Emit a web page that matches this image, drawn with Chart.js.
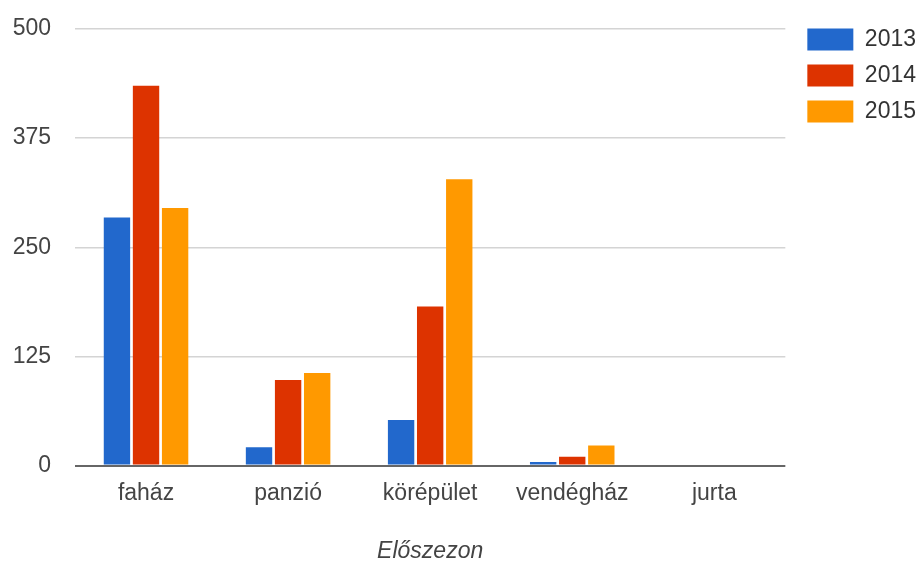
<!DOCTYPE html>
<html>
<head>
<meta charset="utf-8">
<script src="https://cdn.jsdelivr.net/npm/chart.js@4/dist/chart.umd.min.js"></script>
<style>
html,body{margin:0;padding:0;background:#fff;}
#wrap{width:920px;height:561px;position:relative;}
</style>
</head>
<body>
<div id="wrap"><canvas id="c"></canvas></div>
<script>
const categories = ["faház", "panzió", "körépület", "vendégház", "jurta"];
const seriesNames = ["2013", "2014", "2015"];
const values2013 = [284, 21, 52, 4, 0];
const values2014 = [435, 98, 182, 10, 0];
const values2015 = [295, 106, 328, 23, 0];
const yTicks = [0, 125, 250, 375, 500];
const axisTitle = "Előszezon";
const colors = ["#2268cc", "#dd3300", "#ff9900"];

const FONT = 'Arial, "Liberation Sans", sans-serif';

new Chart(document.getElementById('c'), {
  type: 'bar',
  data: {
    labels: categories,
    datasets: [values2013, values2014, values2015].map((v, i) => ({
      label: seriesNames[i],
      data: v,
      backgroundColor: colors[i],
      borderWidth: 0,
      categoryPercentage: 0.614,
      barPercentage: 0.907
    }))
  },
  options: {
    responsive: true,
    maintainAspectRatio: false,
    animation: false,
    layout: { padding: { left: 12, right: -6, top: 15, bottom: 0 } },
    plugins: {
      legend: {
        position: 'right',
        align: 'start',
        labels: {
          boxWidth: 46,
          boxHeight: 22,
          padding: 13,
          color: '#333',
          font: { family: FONT, size: 23 }
        }
      },
      tooltip: { enabled: false }
    },
    scales: {
      x: {
        grid: { display: false },
        border: { display: false },
        ticks: { color: '#444', font: { family: FONT, size: 23 }, padding: 6 },
        title: {
          display: true,
          text: axisTitle,
          color: '#444',
          font: { family: FONT, size: 23, style: 'italic', lineHeight: 1 },
          padding: { top: 0, bottom: -2 }
        },
        afterFit: (s) => { s.height = 95.5; }
      },
      y: {
        min: 0,
        max: 500,
        afterBuildTicks: (s) => { s.ticks = yTicks.map(v => ({ value: v })); },
        grid: {
          drawTicks: false,
          color: (ctx) => ctx.tick && ctx.tick.value === 0 ? '#666' : '#d4d4d4',
          lineWidth: (ctx) => ctx.tick && ctx.tick.value === 0 ? 2 : 1.5
        },
        border: { display: false },
        ticks: { color: '#444', font: { family: FONT, size: 23 }, padding: 24 },
        afterFit: (s) => { s.width = 63; s.paddingTop = 29; s.paddingBottom = 0; }
      },
      spacer: {
        type: 'linear',
        position: 'right',
        display: true,
        grid: { display: false },
        border: { display: false },
        ticks: { display: false },
        afterFit: (s) => { s.width = 9; }
      }
    }
  }
});
</script>
</body>
</html>
